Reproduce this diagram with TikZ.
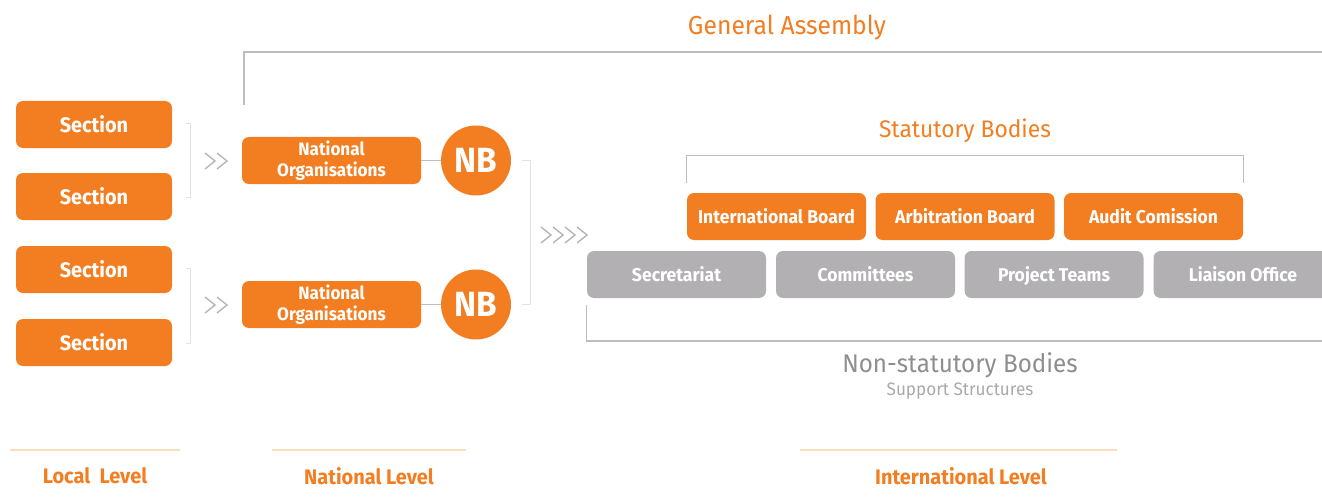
\documentclass[tikz,border=0pt]{standalone}
\usepackage{fontspec}
\setmainfont[FakeStretch=0.95]{Fira Sans}
\definecolor{orng}{HTML}{F37E21}
\definecolor{boxgrey}{HTML}{B2B0B3}
\definecolor{linegrey}{HTML}{BDBDBD}
\definecolor{faintgrey}{HTML}{E2E2E2}
\definecolor{chevgrey}{HTML}{B4B4B4}
\definecolor{textgrey}{HTML}{8E8E8E}
\definecolor{subgrey}{HTML}{A9A9A9}
\definecolor{paleorng}{HTML}{FDDDC0}
\tikzset{
  orangebox/.style={rounded corners=7pt, fill=orng, text=white, inner sep=0pt,
    minimum height=47pt, align=center},
  greybox/.style={rounded corners=7pt, fill=boxgrey, text=white, inner sep=0pt,
    minimum height=47pt, minimum width=179pt, text height=15pt, text depth=2pt,
    font=\fontsize{18.5}{20}\selectfont\bfseries},
  sectionbox/.style={orangebox, minimum width=156pt, font=\fontsize{21}{23}\selectfont\bfseries},
  natbox/.style={orangebox, minimum width=179pt, font=\fontsize{18}{20.5}\selectfont\bfseries},
  statbox/.style={orangebox, minimum width=179pt, text height=15pt, text depth=2pt,
    font=\fontsize{18.5}{20}\selectfont\bfseries},
  nbcircle/.style={circle, fill=orng, text=white, minimum size=70pt, inner sep=0pt,
    font=\fontsize{35}{36}\selectfont\bfseries},
  frameline/.style={draw=linegrey, line width=1.8pt},
  faintline/.style={draw=faintgrey, line width=1pt},
  chev/.style={draw=chevgrey, line width=1.4pt},
  levelline/.style={draw=paleorng, line width=1.5pt},
  leveltext/.style={text=orng, font=\fontsize{21}{23}\selectfont\bfseries},
  titletext/.style={text=orng, font=\fontsize{26}{28}\selectfont},
}
\begin{document}
\begin{tikzpicture}[x=1pt, y=-1pt]
\useasboundingbox (0,0) rectangle (1322,500);

% General Assembly frame
\node[titletext] (ga) at (787,28) {General Assembly};
\coordinate (gaA) at (244,105);
\coordinate (gaB) at (244,52);
\coordinate (gaC) at (1322,52);
\draw[frameline] (gaA) -- (gaB) -- (gaC);

% Local level: sections
\node[sectionbox] (s1) at (94,124.5) {Section};
\node[sectionbox] (s2) at (94,196.5) {Section};
\node[sectionbox] (s3) at (94,269.5) {Section};
\node[sectionbox] (s4) at (94,342.5) {Section};

% brackets grouping the sections
\draw[faintline] ([xshift=14pt,yshift=1pt]s1.east) -- ++(4,0) |- ([xshift=14pt,yshift=-1pt]s2.east);
\draw[faintline] ([xshift=14pt,yshift=1pt]s3.east) -- ++(4,0) |- ([xshift=14pt,yshift=-1pt]s4.east);

% chevrons towards the national level
\foreach \cy in {161,305}{
  \foreach \cx in {205,217}{
    \draw[chev] (\cx,\cy-8) -- (\cx+10,\cy) -- (\cx,\cy+8);
  }
}

% National level
\node[natbox] (n1) at (331.5,160.5) {National\\Organisations};
\node[natbox] (n2) at (331.5,304.5) {National\\Organisations};
\node[nbcircle] (nb1) at (476,160.5) {NB};
\node[nbcircle] (nb2) at (476,304.5) {NB};
\draw[frameline, line width=1.5pt] (n1.east) -- (nb1.west);
\draw[frameline, line width=1.5pt] (n2.east) -- (nb2.west);

% bracket grouping the national bodies
\draw[faintline] ([xshift=11pt]nb1.east) -- ++(8,0) |- ([xshift=11pt]nb2.east);

% chevrons towards the international level
\foreach \cx in {541,553,565,577}{
  \draw[chev] (\cx,235-8) -- (\cx+10,235) -- (\cx,235+8);
}

% Statutory bodies
\node[titletext, font=\fontsize{24}{26}\selectfont] (sb) at (965,131) {Statutory Bodies};
\node[statbox] (ib) at (776.5,216.5) {International Board};
\node[statbox] (ab) at (965,216.5) {Arbitration Board};
\node[statbox] (ac) at (1153.5,216.5) {Audit Comission};
\draw[draw=linegrey, line width=1.2pt] ([yshift=10pt]ib.north west) -- ++(0,-27) -| ([yshift=10pt]ac.north east);

% Non-statutory bodies
\node[greybox] (sec) at (676.5,274.5) {Secretariat};
\node[greybox] (com) at (865.5,274.5) {Committees};
\node[greybox] (pt) at (1054,274.5) {Project Teams};
\node[greybox] (lo) at (1243,274.5) {Liaison Office};
\coordinate (nsEnd) at (1322,341);
\draw[draw=linegrey, line width=1.2pt] ([yshift=-7pt]sec.south west) |- (nsEnd);
\node[text=textgrey, font=\fontsize{25.5}{27}\selectfont] (ns) at (960,365) {Non-statutory Bodies};
\node[text=subgrey, font=\fontsize{18}{20}\selectfont] (ss) at (960,391) {Support Structures};

% Level captions
\draw[levelline] (10,450) -- (180,450);
\draw[levelline] (272,450) -- (466,450);
\draw[levelline] (800,450) -- (1117,450);
\node[leveltext] (ll) at (95,476) {Local\ \ Level};
\node[leveltext] (nl) at (369,476) {National Level};
\node[leveltext] (il) at (961,476) {International Level};
\end{tikzpicture}
\end{document}
